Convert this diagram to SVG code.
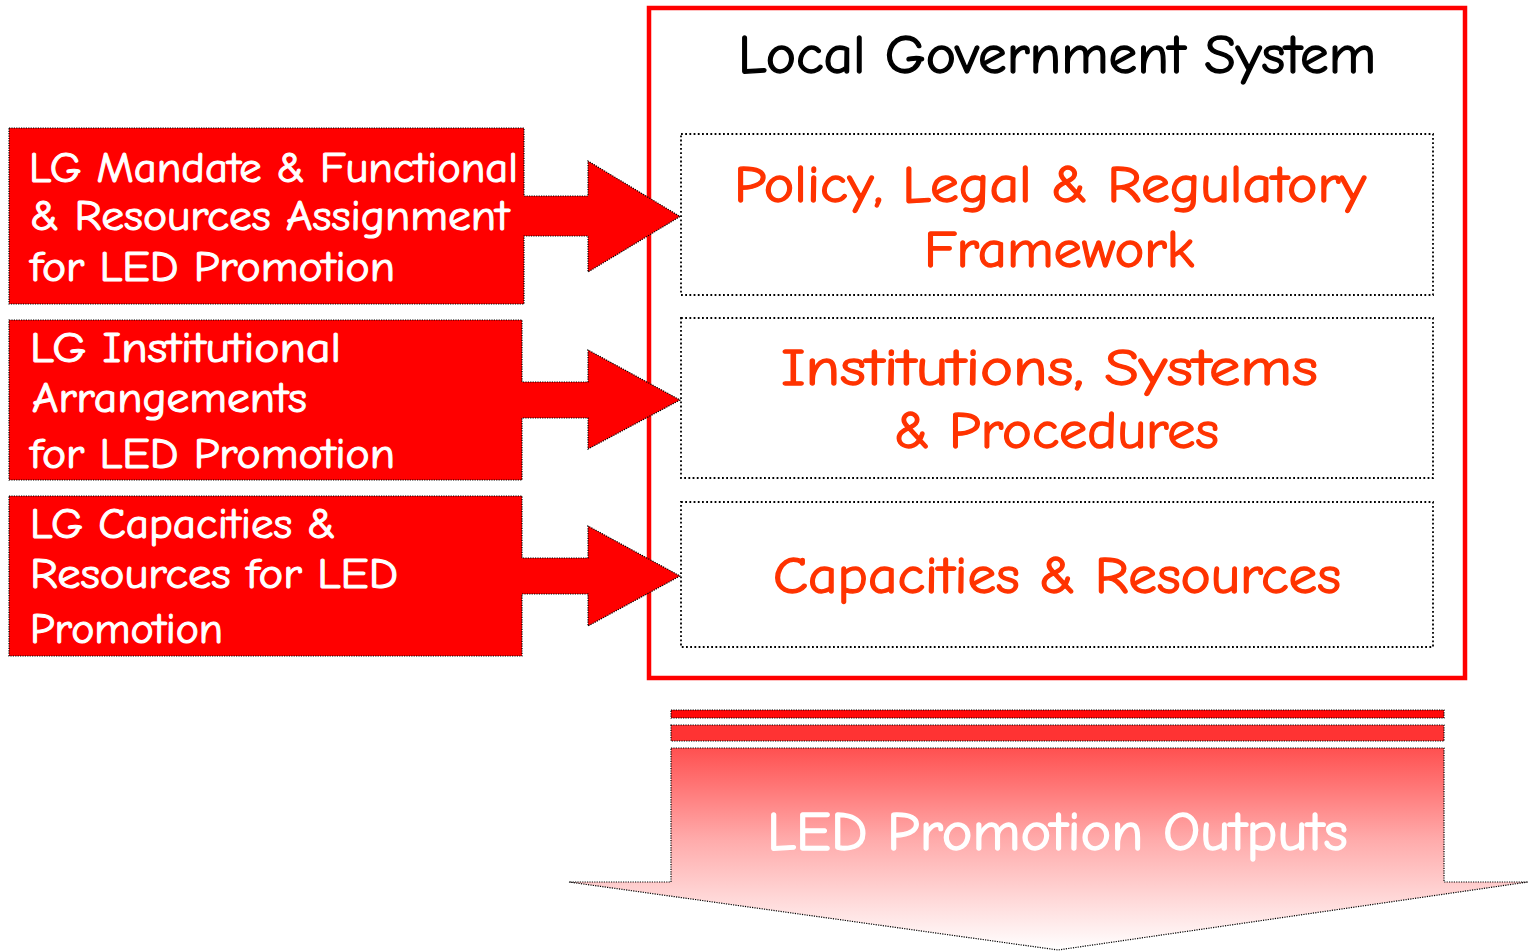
<svg xmlns="http://www.w3.org/2000/svg" width="1529" height="951" viewBox="0 0 1529 951">
<style>
text { font-family: "Comic Sans MS", "Comic Neue", "Open Sans", sans-serif; stroke-linejoin: round; }
.lt { fill: #ffffff; stroke: #ffffff; stroke-width: 1.1; font-size: 43px; }
.rt { fill: #ff3300; stroke: #ff3300; stroke-width: 1.3; font-size: 52px; }
.title { fill: #000000; stroke: #000000; stroke-width: 1.3; font-size: 54px; }
.out { fill: #ffffff; stroke: #ffffff; stroke-width: 1.3; font-size: 54px; }
.callout { fill: #ff0000; stroke: #000000; stroke-width: 1.2; stroke-dasharray: 1.2 1.2; }
.inner { fill: none; stroke: #000000; stroke-width: 1.8; stroke-dasharray: 1.8 2.4; }
.frame { fill: #ffffff; stroke: #ff0000; stroke-width: 4.5; }
.bar { stroke: #000000; stroke-width: 1.2; stroke-dasharray: 1.2 1.2; }
</style>
<defs>
<linearGradient id="g" gradientUnits="userSpaceOnUse" x1="0" y1="748" x2="0" y2="950">
<stop offset="0" stop-color="#ff5050"/>
<stop offset="0.45" stop-color="#ffaaaa"/>
<stop offset="1" stop-color="#ffffff"/>
</linearGradient>
</defs>

<g id="frame">
<rect class="frame" x="649" y="8" width="816" height="670"/>
<text class="title" x="738" y="73" textLength="638" lengthAdjust="spacingAndGlyphs">Local Government System</text>
</g>

<g id="policy">
<rect class="inner" x="681" y="134" width="752" height="161"/>
<text class="rt" x="734" y="202" textLength="632" lengthAdjust="spacingAndGlyphs">Policy, Legal &amp; Regulatory</text>
<text class="rt" x="924" y="267" textLength="270" lengthAdjust="spacingAndGlyphs">Framework</text>
</g>

<g id="institutions">
<rect class="inner" x="681" y="318" width="752" height="160"/>
<text class="rt" x="781" y="385" textLength="537" lengthAdjust="spacingAndGlyphs">Institutions, Systems</text>
<text class="rt" x="894" y="448" textLength="325" lengthAdjust="spacingAndGlyphs">&amp; Procedures</text>
</g>

<g id="capacities">
<rect class="inner" x="681" y="502" width="752" height="145"/>
<text class="rt" x="773" y="593" textLength="568" lengthAdjust="spacingAndGlyphs">Capacities &amp; Resources</text>
</g>

<g id="connectors">
<g id="mandate">
<path class="callout" d="M9,128 H524 V196 H588 V161 L680,216.5 L588,272 V236 H524 V304 H9 Z"/>
<text class="lt" x="29" y="182" textLength="489" lengthAdjust="spacingAndGlyphs">LG Mandate &amp; Functional</text>
<text class="lt" x="30" y="230" textLength="479" lengthAdjust="spacingAndGlyphs">&amp; Resources Assignment</text>
<text class="lt" x="30" y="281" textLength="365" lengthAdjust="spacingAndGlyphs">for LED Promotion</text>
</g>
<g id="institutional">
<path class="callout" d="M9,320 H522 V382 H588 V350 L680,400 L588,449 V418 H522 V480 H9 Z"/>
<text class="lt" x="30" y="362" textLength="311" lengthAdjust="spacingAndGlyphs">LG Institutional</text>
<text class="lt" x="32" y="412" textLength="275" lengthAdjust="spacingAndGlyphs">Arrangements</text>
<text class="lt" x="30" y="468" textLength="365" lengthAdjust="spacingAndGlyphs">for LED Promotion</text>
</g>
<g id="resources">
<path class="callout" d="M9,496 H522 V558 H588 V526 L680,576 L588,626 V594 H522 V656 H9 Z"/>
<text class="lt" x="30" y="538" textLength="306" lengthAdjust="spacingAndGlyphs">LG Capacities &amp;</text>
<text class="lt" x="30" y="588" textLength="368" lengthAdjust="spacingAndGlyphs">Resources for LED</text>
<text class="lt" x="30" y="643" textLength="193" lengthAdjust="spacingAndGlyphs">Promotion</text>
</g>
</g>

<g id="outputs">
<rect class="bar" x="671" y="710" width="773" height="8" fill="#ff0a0a"/>
<rect class="bar" x="671" y="725" width="773" height="16" fill="#ff3333"/>
<path class="bar" fill="url(#g)" d="M671,748 H1444 V882 H1528 L1058,950 L569,882 H671 Z"/>
<text class="out" x="767" y="850" textLength="581" lengthAdjust="spacingAndGlyphs">LED Promotion Outputs</text>
</g>
</svg>
